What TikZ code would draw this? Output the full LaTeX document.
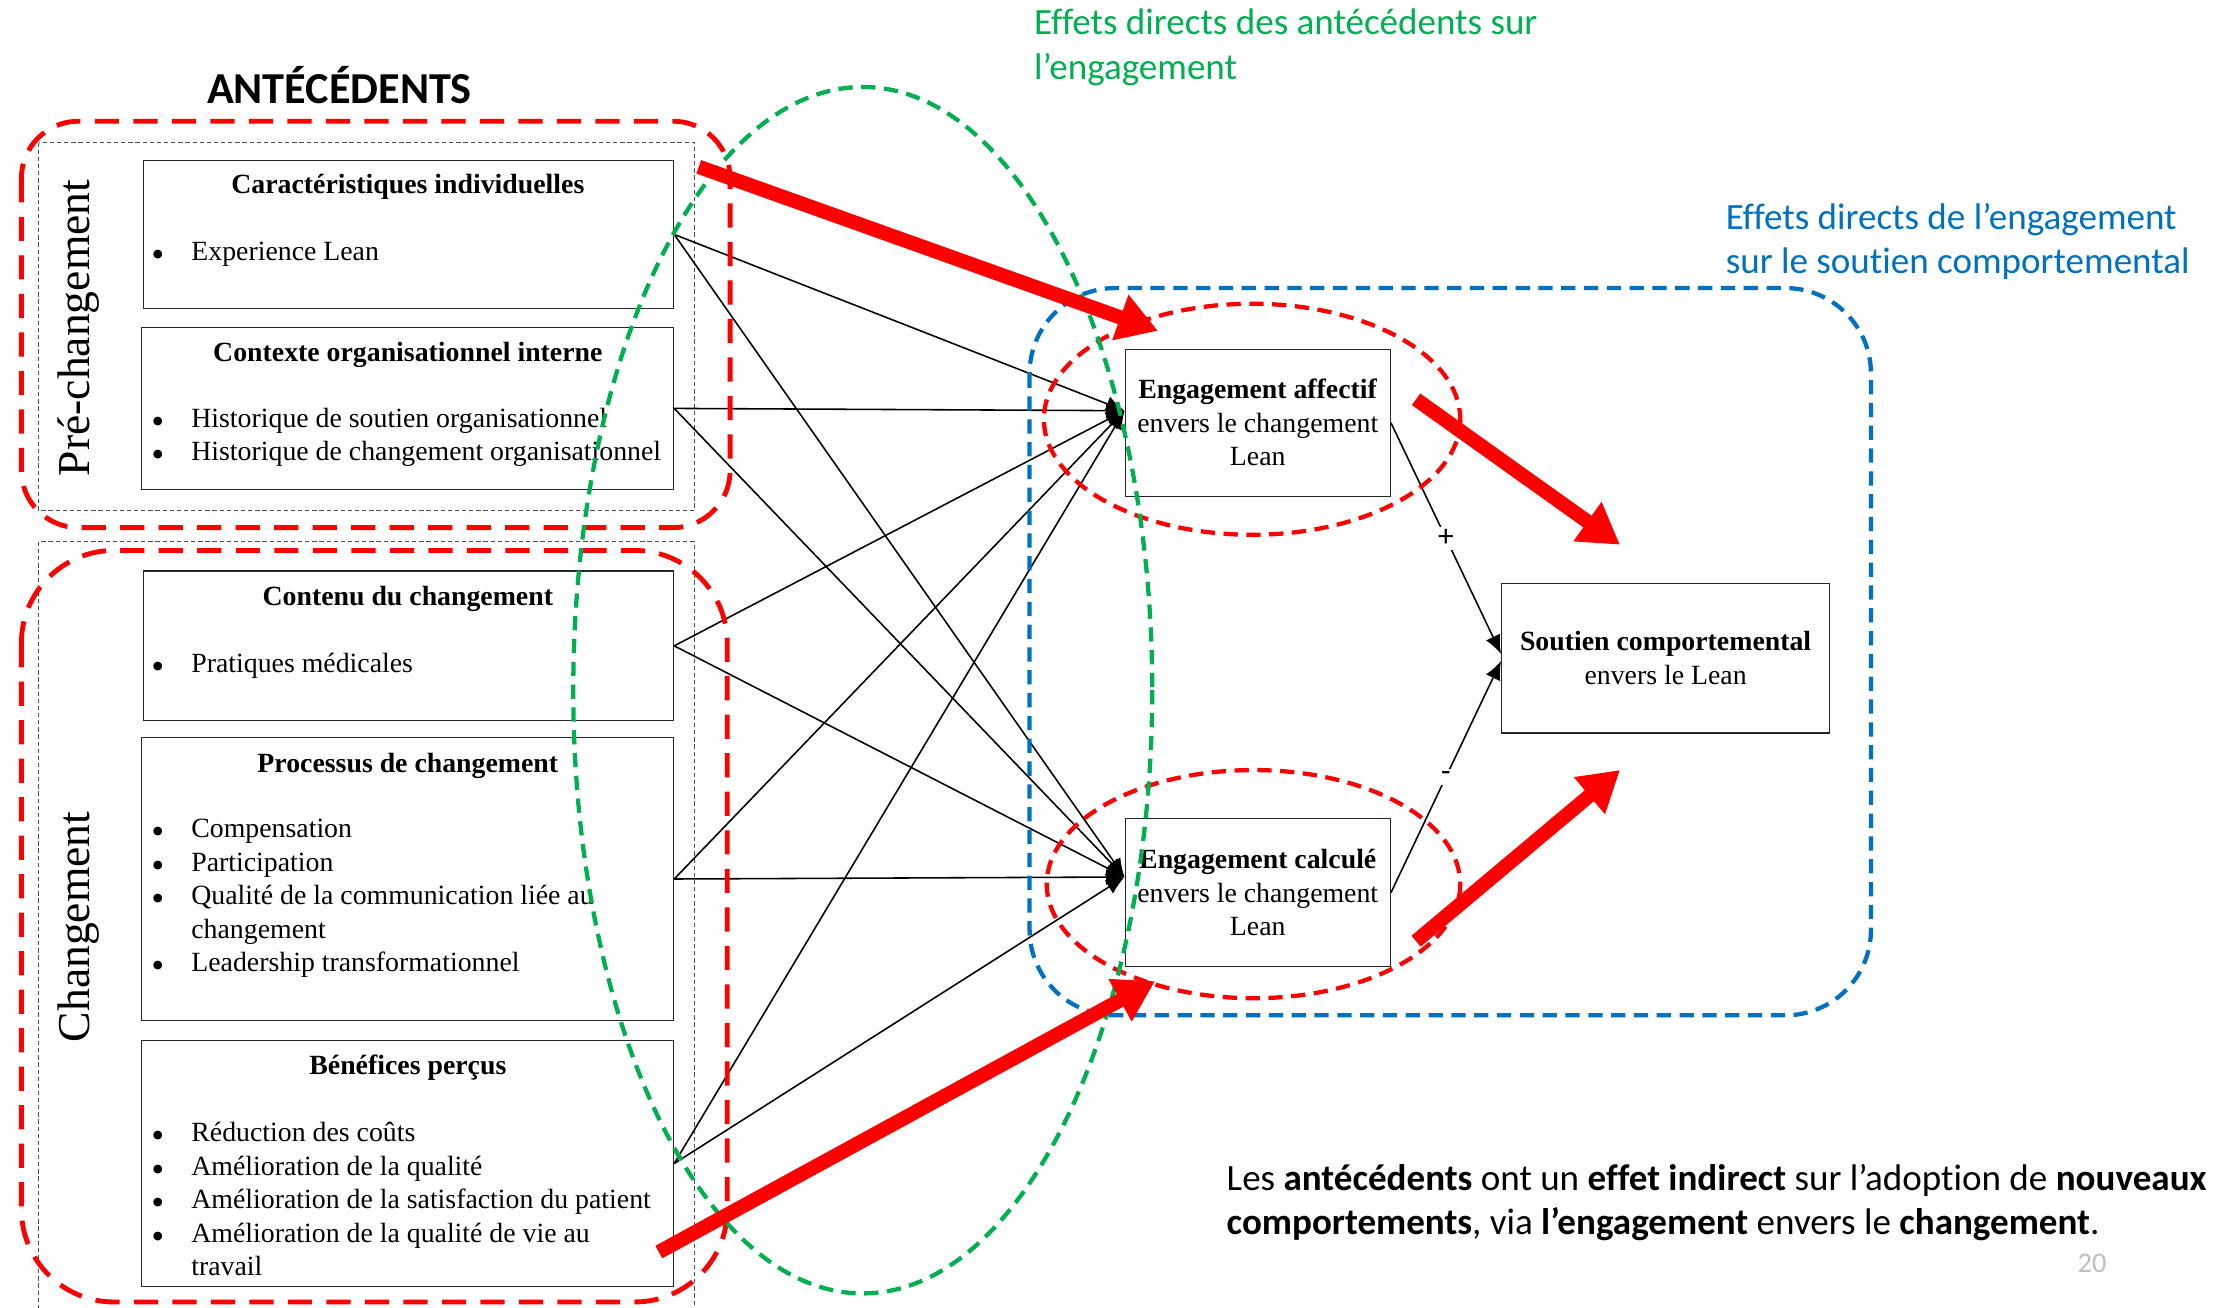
\documentclass[tikz,border=0pt]{standalone}
\usepackage{fontspec}
\setmainfont{Liberation Serif}
\newfontfamily\calfont[Ligatures=NoCommon]{Carlito}
\newfontfamily\dotfont{DejaVu Sans}
\usetikzlibrary{arrows.meta,calc}
\definecolor{effred}{RGB}{255,0,0}
\definecolor{effgreen}{RGB}{0,176,80}
\definecolor{effblue}{RGB}{0,112,192}
\definecolor{pagegray}{RGB}{191,191,191}
\newcommand{\boxfont}{\fontsize{19.5}{23.5}\selectfont}
\newcommand{\notefont}{\calfont\fontsize{26}{31}\selectfont}
\newcommand{\bul}{\raisebox{2pt}{\dotfont\fontsize{8}{8}\selectfont ●}}
\newenvironment{blist}{\boxfont\begin{tabular}[t]{@{}p{27pt}@{}l@{}}}{\end{tabular}}
\begin{document}
\begin{tikzpicture}[x=1pt,y=-1pt,
  abox/.style={draw=black!85, line width=0.8pt, inner sep=0pt, anchor=north west},
  ebox/.style={draw=black!85, line width=0.8pt, inner sep=0pt, align=center, font=\boxfont},
  ttl/.style={inner sep=0pt, anchor=base, font=\boxfont\bfseries},
  lst/.style={inner sep=0pt, anchor=base west},
  grp/.style={draw=black!70, line width=0.6pt, dash pattern=on 3pt off 2pt},
  bigdash/.style={draw=effred, line width=3.4pt, dash pattern=on 17pt off 10pt},
  reddash/.style={draw=effred, line width=3pt, dash pattern=on 10pt off 6pt},
  greendash/.style={draw=effgreen, line width=3pt, dash pattern=on 10pt off 6pt},
  bluedash/.style={draw=effblue, line width=3pt, dash pattern=on 10pt off 6pt},
  link/.style={draw=black, line width=1.1pt, -{Latex[length=13pt,width=11pt]}},
  bigarrow/.style={draw=effred, line width=10pt, -{Triangle[length=28pt,width=32pt]}},
  sign/.style={fill=white, inner sep=2pt, font=\calfont\fontsize{22}{24}\selectfont},
  rot/.style={rotate=90, inner sep=0pt, font=\fontsize{32}{38}\selectfont}
]
\useasboundingbox (0,0) rectangle (1568,917);

% ---- antecedent group frames ----
\draw[grp] (27,100) rectangle (487,358);
\draw[grp] (27,380) rectangle (487,925);

\node[font=\calfont\bfseries\fontsize{31}{36}\selectfont, inner sep=0pt] (ante) at (238,60) {ANTÉCÉDENTS};

\node[rot] (prech) at (55,230) {Pré-changement};
\node[rot] (chg) at (55,650) {Changement};

% ---- antecedent boxes ----
\node[abox, minimum width=372pt, minimum height=104pt] (car) at (100,112) {};
\node[abox, minimum width=373pt, minimum height=114pt] (ctx) at (99,229) {};
\node[abox, minimum width=372pt, minimum height=105pt] (cnt) at (100,400) {};
\node[abox, minimum width=373pt, minimum height=198pt] (prc) at (99,517) {};
\node[abox, minimum width=373pt, minimum height=173pt] (ben) at (99,729) {};

\node[ttl] (carT) at (286,135.5) {Caractéristiques individuelles};
\node[lst] (carL) at (107,182.5) {\begin{blist}\bul & Experience Lean\end{blist}};

\node[ttl] (ctxT) at (286,253.5) {Contexte organisationnel interne};
\node[lst] (ctxL) at (107,299.5) {\begin{blist}\bul & Historique de soutien organisationnel\\
\bul & Historique de changement organisationnel\end{blist}};

\node[ttl] (cntT) at (286,424.5) {Contenu du changement};
\node[lst] (cntL) at (107,471.5) {\begin{blist}\bul & Pratiques médicales\end{blist}};

\node[ttl] (prcT) at (286,541.5) {Processus de changement};
\node[lst] (prcL) at (107,587.5) {\begin{blist}\bul & Compensation\\
\bul & Participation\\
\bul & Qualité de la communication liée au\\
 & changement\\
\bul & Leadership transformationnel\end{blist}};

\node[ttl] (benT) at (286,753.5) {Bénéfices perçus};
\node[lst] (benL) at (107,800.5) {\begin{blist}\bul & Réduction des coûts\\
\bul & Amélioration de la qualité\\
\bul & Amélioration de la satisfaction du patient\\
\bul & Amélioration de la qualité de vie au\\
 & travail\end{blist}};

% ---- commitment and outcome boxes ----
\node[ebox, minimum width=186pt, minimum height=103pt] (aff) at (882,296.5)
  {\textbf{Engagement affectif}\\envers le changement\\Lean};
\node[ebox, minimum width=186pt, minimum height=104pt] (cal) at (882,626)
  {\textbf{Engagement calculé}\\envers le changement\\Lean};
\node[ebox, minimum width=230pt, minimum height=105pt] (sout) at (1168,461.5)
  {\textbf{Soutien comportemental}\\envers le Lean};

% ---- links from antecedents to commitment ----
\coordinate (ta) at ($(aff.west)+(0,-8.5)$);
\coordinate (tc) at ($(cal.west)+(0,-11)$);
\foreach \s in {car,ctx,cnt,prc,ben}{
  \draw[link] (\s.east) -- (ta);
  \draw[link] (\s.east) -- (tc);
}

% ---- links from commitment to behavioural support ----
\coordinate (sa) at ($(sout.west)+(0,-3)$);
\coordinate (sc) at ($(sout.west)+(0,2)$);
\draw[link] (aff.east) -- node[sign] (plus) {+} (sa);
\draw[link] (cal.east) -- node[sign] (minus) {-} (sc);

% ---- grouping outlines ----
\draw[bigdash, rounded corners=40pt] (15,85) rectangle (512,370);
\draw[bigdash, rounded corners=65pt] (15,386) rectangle (510,913);
\draw[bluedash, rounded corners=60pt] (722,202) rectangle (1312,712);
\draw[reddash] (878,294) ellipse [x radius=146, y radius=81];
\draw[reddash] (879,620) ellipse [x radius=145, y radius=80];
\draw[greendash] (605,484) ellipse [x radius=203, y radius=423];

% ---- effect arrows ----
\coordinate (r1s) at (490,117);  \coordinate (r1e) at (812,232);
\coordinate (r2s) at (462,878);  \coordinate (r2e) at (810,688);
\coordinate (r3s) at (993,280);  \coordinate (r3e) at (1136,382);
\coordinate (r4s) at (993,660);  \coordinate (r4e) at (1136,540);
\draw[bigarrow] (r1s) -- (r1e);
\draw[bigarrow] (r2s) -- (r2e);
\draw[bigarrow] (r3s) -- (r3e);
\draw[bigarrow] (r4s) -- (r4e);

% ---- annotations ----
\node[anchor=base west, inner sep=0pt, text=effgreen, font=\notefont] (g1) at (725,24) {Effets directs des antécédents sur};
\node[anchor=base west, inner sep=0pt, text=effgreen, font=\notefont] (g2) at (725,56) {l’engagement};
\node[anchor=base west, inner sep=0pt, text=effblue, font=\notefont] (b1) at (1210,161) {Effets directs de l’engagement};
\node[anchor=base west, inner sep=0pt, text=effblue, font=\notefont] (b2) at (1210,192) {sur le soutien comportemental};
\node[anchor=base west, inner sep=0pt, font=\notefont] (n1) at (860,835)
  {Les \textbf{antécédents} ont un \textbf{effet indirect} sur l’adoption de \textbf{nouveaux}};
\node[anchor=base west, inner sep=0pt, font=\notefont] (n2) at (860,866)
  {\textbf{comportements}, via \textbf{l’engagement} envers le \textbf{changement}.};
\node[inner sep=0pt, text=pagegray, font=\calfont\fontsize{20}{24}\selectfont] (pg) at (1467,886) {20};
\end{tikzpicture}
\end{document}
